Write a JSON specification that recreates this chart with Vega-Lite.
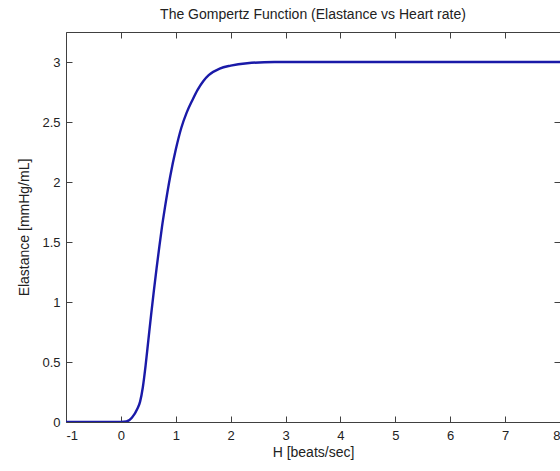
{
  "$schema": "https://vega.github.io/schema/vega-lite/v6.json",
  "width": 494,
  "height": 390,
  "autosize": {"type": "none"},
  "padding": {"left": 66, "top": 32, "right": 0, "bottom": 49},
  "background": "white",
  "title": {
    "text": "The Gompertz Function (Elastance vs Heart rate)",
    "font": "Liberation Sans",
    "fontSize": 14,
    "fontWeight": "normal",
    "color": "#222222",
    "anchor": "middle",
    "offset": 10
  },
  "config": {
    "view": {"stroke": "#404040", "strokeWidth": 1},
    "axis": {
      "labelFont": "Liberation Sans",
      "labelFontSize": 13,
      "labelColor": "#222222",
      "titleFont": "Liberation Sans",
      "titleFontSize": 14,
      "titleFontWeight": "normal",
      "titleColor": "#222222",
      "grid": false,
      "domain": false,
      "tickColor": "#404040",
      "tickSize": -6,
      "tickWidth": 1
    }
  },
  "data": {
    "values": [
      {"H": -1.0, "E": 0.0},
      {"H": -0.5, "E": 0.0},
      {"H": 0.0, "E": 0.0},
      {"H": 0.1, "E": 0.004},
      {"H": 0.2, "E": 0.035},
      {"H": 0.3, "E": 0.11},
      {"H": 0.35, "E": 0.17},
      {"H": 0.4, "E": 0.29},
      {"H": 0.45, "E": 0.47},
      {"H": 0.5, "E": 0.68},
      {"H": 0.55, "E": 0.89},
      {"H": 0.6, "E": 1.09},
      {"H": 0.65, "E": 1.28},
      {"H": 0.7, "E": 1.46},
      {"H": 0.75, "E": 1.63},
      {"H": 0.8, "E": 1.78},
      {"H": 0.9, "E": 2.05},
      {"H": 1.0, "E": 2.27},
      {"H": 1.1, "E": 2.45},
      {"H": 1.2, "E": 2.58},
      {"H": 1.3, "E": 2.68},
      {"H": 1.4, "E": 2.77},
      {"H": 1.5, "E": 2.84},
      {"H": 1.6, "E": 2.89},
      {"H": 1.8, "E": 2.945},
      {"H": 2.0, "E": 2.97},
      {"H": 2.3, "E": 2.99},
      {"H": 2.8, "E": 3.0},
      {"H": 4.0, "E": 3.0},
      {"H": 5.0, "E": 3.0},
      {"H": 6.0, "E": 3.0},
      {"H": 7.0, "E": 3.0},
      {"H": 8.0, "E": 3.0}
    ]
  },
  "layer": [
    {
      "mark": {"type": "line", "color": "#1a1aa8", "strokeWidth": 2.4, "interpolate": "monotone", "clip": true},
      "encoding": {
        "x": {
          "field": "H", "type": "quantitative",
          "scale": {"domain": [-1, 8], "nice": false, "zero": false},
          "axis": {
            "orient": "bottom",
            "title": "H [beats/sec]",
            "values": [-1, 0, 1, 2, 3, 4, 5, 6, 7, 8],
            "labelExpr": "datum.value + ''",
            "labelPadding": 13,
            "titlePadding": 3
          }
        },
        "y": {
          "field": "E", "type": "quantitative",
          "scale": {"domain": [0, 3.25], "nice": false},
          "axis": {
            "orient": "left",
            "title": "Elastance [mmHg/mL]",
            "values": [0, 0.5, 1, 1.5, 2, 2.5, 3],
            "labelExpr": "datum.value + ''",
            "labelPadding": 12,
            "titlePadding": 10
          }
        }
      }
    },
    {
      "mark": {"type": "line", "opacity": 0},
      "encoding": {
        "x": {
          "field": "H", "type": "quantitative",
          "scale": {"domain": [-1, 8], "nice": false, "zero": false},
          "axis": {"orient": "top", "title": null, "labels": false, "values": [-1, 0, 1, 2, 3, 4, 5, 6, 7, 8]}
        },
        "y": {
          "field": "E", "type": "quantitative",
          "scale": {"domain": [0, 3.25], "nice": false},
          "axis": {"orient": "right", "title": null, "labels": false, "values": [0, 0.5, 1, 1.5, 2, 2.5, 3]}
        }
      }
    }
  ],
  "resolve": {"axis": {"x": "independent", "y": "independent"}}
}
